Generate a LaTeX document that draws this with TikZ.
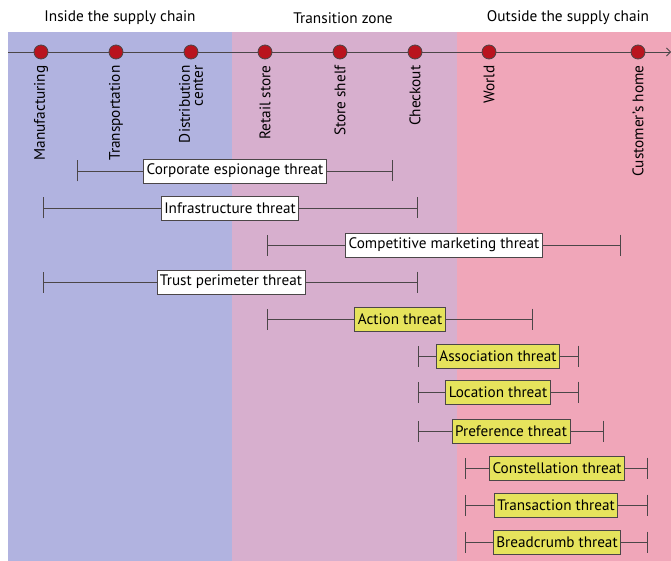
\documentclass[tikz,border=0pt]{standalone}
\usepackage{fontspec}
\setmainfont{PT Sans}
\usetikzlibrary{positioning,arrows.meta}
\definecolor{insideblue}{RGB}{177,179,224}
\definecolor{transmauve}{RGB}{215,175,206}
\definecolor{outsidepink}{RGB}{240,166,185}
\definecolor{dotred}{RGB}{185,20,30}
\definecolor{threatyellow}{RGB}{230,227,92}
\definecolor{linegray}{RGB}{75,70,72}
\tikzset{
  zonehead/.style={font=\fontsize{15.3}{16}\selectfont, inner sep=0pt},
  stage/.style={circle, draw=linegray, fill=dotred, line width=0.8pt, inner sep=0pt, minimum size=14pt},
  stagelabel/.style={rotate=90, anchor=east, align=right, inner sep=0pt, font=\fontsize{15.3}{13}\selectfont},
  threat/.style={draw=linegray, fill=white, line width=0.8pt, inner xsep=3pt, inner ysep=2pt, minimum height=24pt, font=\fontsize{15.2}{16}\selectfont},
  privacy/.style={threat, fill=threatyellow},
  span/.style={draw=linegray, line width=0.8pt, {Bar[width=21pt]}-{Bar[width=21pt]}}
}

\begin{document}
\begin{tikzpicture}[x=1pt, y=-1pt]
    \useasboundingbox (0,0) rectangle (671,561);

    % Zones
    \fill[insideblue] (8,32) rectangle (232,561);
    \fill[transmauve] (232,32) rectangle (457,561);
    \fill[outsidepink] (457,32) rectangle (671,561);

    \node[zonehead] (inside) at (120,18) {Inside the supply chain};
    \node[zonehead] (transition) at (343,18) {Transition zone};
    \node[zonehead] (outside) at (568,18) {Outside the supply chain};

    % Draw number line
    \coordinate (axisL) at (8,52);
    \coordinate (axisR) at (671,52);
    \draw[linegray, line width=0.8pt, -{Straight Barb[length=4pt]}] (axisL) -- (axisR);

    % Stages along the chain
    \foreach \i/\x/\name in {1/41/Manufacturing, 2/116/Transportation, 3/191/{Distribution\\center}, 4/265/Retail store, 5/340/Store shelf, 6/415/Checkout, 7/489/World, 8/638/Customer's home} {
      \node[stage] (s\i) at (\x,52) {};
      \node[stagelabel] (l\i) at ([yshift=-6pt]s\i.south) {\name};
    }

    % Threats: name/y/left/right/box centre/style/text
    \foreach \n/\y/\a/\b/\c/\s/\t in {
        cesp/171/77/393/235/threat/Corporate espionage threat,
        infra/208/43/418/230/threat/Infrastructure threat,
        cmkt/245/267/621/444/threat/Competitive marketing threat,
        trust/282/43/418/231/threat/Trust perimeter threat,
        action/319/267/533/400/privacy/Action threat,
        assoc/356/418/579/498/privacy/Association threat,
        loc/392/418/579/498/privacy/Location threat,
        pref/431/418/604/511/privacy/Preference threat,
        const/468/465/648/557/privacy/Constellation threat,
        trans/505/465/648/556/privacy/Transaction threat,
        bread/542/465/648/557/privacy/Breadcrumb threat} {
      \coordinate (\n-l) at (\a,\y);
      \coordinate (\n-r) at (\b,\y);
      \draw[span] (\n-l) -- (\n-r);
      \node[\s] (\n) at (\c,\y) {\t};
    }

\end{tikzpicture}
\end{document}
